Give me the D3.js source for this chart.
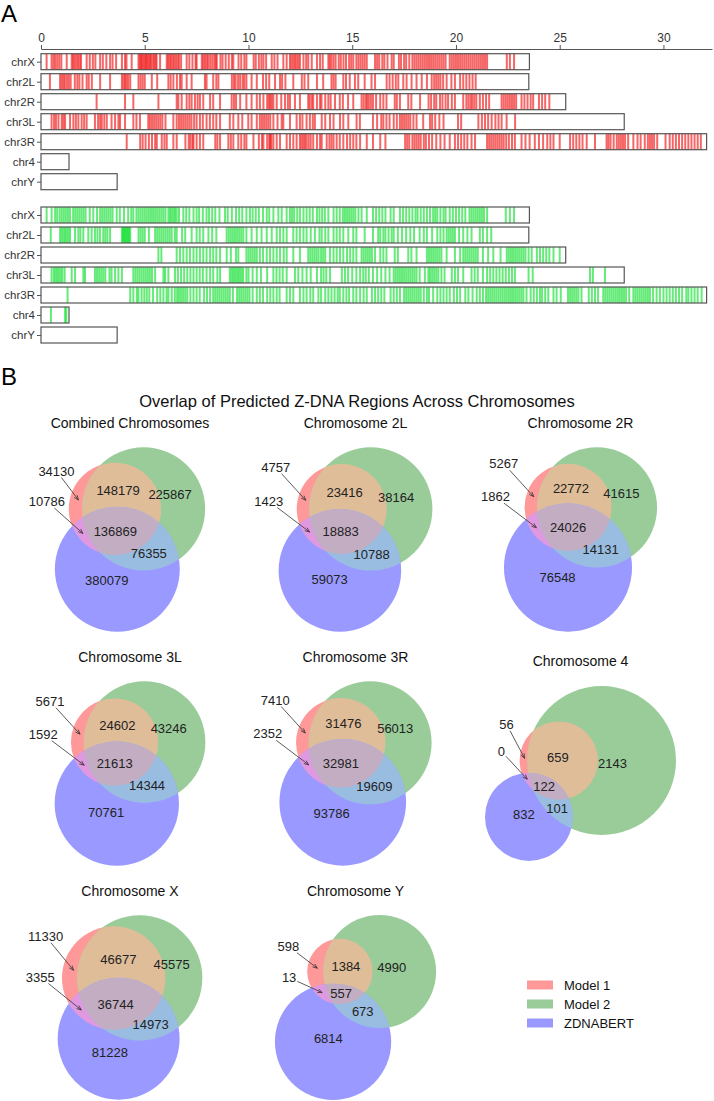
<!DOCTYPE html>
<html>
<head>
<meta charset="utf-8">
<script src="https://cdnjs.cloudflare.com/ajax/libs/d3/7.8.5/d3.min.js"></script>
<style>
  body { margin: 0; background: #fff; }
  svg { display: block; font-family: "Liberation Sans", Arial, sans-serif; }
</style>
</head>
<body>
<svg id="fig" width="714" height="1101"></svg>
<script>
// ---------------- Data: panel A ----------------
const chroms = ["chrX", "chr2L", "chr2R", "chr3L", "chr3R", "chr4", "chrY"];
const chromLengths = [23.54, 23.51, 25.29, 28.11, 32.08, 1.35, 3.67]; // Mb
const axisTicks = [0, 5, 10, 15, 20, 25, 30];

// predicted Z-DNA sites (Mb), model 1 (red)
const m1_chrX = [0.27,0.51,0.6,0.68,0.78,0.88,0.98,1.24,1.48,1.55,1.62,1.7,1.78,1.86,1.93,2.2,2.35,2.5,2.62,2.85,2.98,3.15,3.33,3.45,3.62,3.9,4.05,4.12,4.37,4.7,4.76,4.82,4.88,4.94,5.0,5.06,5.12,5.18,5.24,5.3,5.38,5.45,5.52,5.57,5.74,6.06,6.13,6.2,6.27,6.35,6.42,6.5,6.58,6.65,6.75,7.02,7.15,7.3,7.45,7.5,7.75,7.82,7.9,7.98,8.05,8.15,8.25,8.35,8.42,8.47,8.65,8.75,8.9,9.05,9.2,9.27,9.52,9.65,9.8,9.9,10.25,10.35,10.5,10.62,10.72,10.85,11.12,11.25,11.4,11.68,11.84,12.0,12.08,12.16,12.24,12.32,12.4,12.48,12.65,12.78,12.88,13.05,13.3,13.45,13.58,13.85,13.92,14.0,14.1,14.2,14.35,14.45,14.58,14.7,14.85,14.95,15.05,15.2,15.3,15.4,15.5,15.6,15.7,16.1,16.2,16.3,16.45,16.55,16.7,16.9,17.0,17.25,17.35,17.5,17.6,17.75,17.9,18.0,18.1,18.2,18.3,18.4,18.5,18.6,18.7,18.8,18.9,19.0,19.1,19.2,19.3,19.4,19.5,19.7,19.8,19.9,20.0,20.1,20.2,20.3,20.4,20.5,20.6,20.7,20.8,20.9,21.0,21.1,21.2,21.3,21.4,21.5,22.45,22.6,22.8];
const m1_chr2L = [0.43,0.92,1.0,1.08,1.15,1.25,1.34,1.43,1.63,1.75,1.85,2.0,2.2,2.3,2.45,2.85,3.33,3.9,3.98,4.05,4.12,4.2,4.3,4.7,4.8,4.9,5.0,5.34,5.6,6.14,6.25,6.38,6.55,6.7,6.78,7.02,7.26,7.9,7.98,8.3,8.45,8.55,9.2,9.3,9.38,9.5,9.6,9.72,9.8,9.9,10.15,10.4,10.7,10.85,11.0,11.28,11.52,11.62,11.78,12.16,12.57,12.7,12.88,13.3,13.6,14.0,14.1,14.2,14.57,14.7,14.88,15.13,15.29,15.6,15.93,16.1,16.66,16.8,16.95,17.1,17.22,17.46,17.62,17.86,18.1,18.35,18.6,18.83,18.95,19.05,19.15,19.25,19.38,19.55,19.78,19.95,20.2,20.35,20.5,20.65,20.8,20.95];
const m1_chr2R = [2.68,4.05,4.45,5.66,6.54,6.62,6.78,7.02,7.15,7.26,7.42,7.55,7.66,7.82,8.15,8.3,8.63,9.19,9.3,9.4,9.6,9.9,10.15,10.4,10.55,10.72,10.9,10.98,11.05,11.12,11.2,11.36,11.58,11.76,11.9,12.0,12.24,12.48,12.88,12.95,13.05,13.12,13.3,13.45,13.52,13.7,13.85,13.96,14.17,14.4,14.55,14.8,15.05,15.45,15.55,15.65,15.72,15.8,15.9,16.0,16.15,16.35,16.5,16.65,17.05,17.15,17.3,17.7,17.85,18.27,18.68,18.8,18.95,19.05,19.23,19.35,19.5,19.62,19.8,19.95,20.35,20.5,20.6,20.7,20.78,20.88,20.98,21.15,21.3,21.45,21.6,22.2,22.3,22.4,22.5,22.6,22.7,22.8,22.9,23.16,23.3,23.45,23.6,23.72,24.0,24.15,24.3,24.5];
const m1_chr3L = [0.51,0.63,0.72,0.84,1.0,1.08,1.16,1.4,1.56,1.68,1.8,1.96,2.08,2.2,2.6,2.75,2.85,2.93,3.05,3.17,3.4,3.57,3.73,3.81,4.05,4.45,4.6,4.77,5.17,5.25,5.35,5.45,5.55,5.65,5.75,5.85,6.0,6.38,6.54,6.65,6.75,6.85,6.95,7.05,7.15,7.25,7.38,7.5,7.66,7.8,7.98,8.14,8.3,8.45,8.63,9.1,9.27,9.51,9.7,9.99,10.15,10.4,10.55,10.65,10.75,10.85,10.95,11.05,11.2,11.4,11.6,11.68,12.0,12.32,12.48,12.6,12.8,12.96,13.1,13.2,13.53,13.7,13.93,14.1,14.41,14.57,14.81,15.21,15.37,16.0,16.2,16.4,16.5,16.65,16.8,17.0,17.15,17.3,17.4,17.5,17.6,17.7,17.8,17.95,18.1,18.42,18.75,18.85,19.0,19.2,19.4,20.1,20.25,21.08,21.25,21.4,21.55,21.72,21.9,22.05,22.2,22.44,22.85];
const m1_chr3R = [4.13,4.78,4.9,5.04,5.2,5.35,5.5,5.58,5.82,5.95,6.06,6.38,6.54,6.96,7.12,7.2,7.3,7.35,7.5,7.66,7.82,8.4,8.5,8.63,9.03,9.15,9.27,9.51,9.65,9.8,9.9,10.24,10.5,10.65,10.72,10.9,11.0,11.05,11.1,11.2,11.36,11.52,11.84,12.0,12.16,12.32,12.48,12.56,12.64,12.72,12.8,12.9,13.0,13.12,13.3,13.45,13.53,13.77,13.9,14.0,14.1,14.25,14.4,14.57,14.75,14.9,15.05,15.2,15.38,15.7,16.0,16.35,16.6,17.55,17.65,17.75,17.9,18.0,18.1,18.2,18.3,18.45,18.55,18.7,18.85,19.05,19.25,19.45,19.7,19.95,20.1,20.25,20.4,20.55,20.75,20.92,21.5,21.6,21.7,21.8,21.9,22.0,22.1,22.2,22.3,22.42,22.55,22.7,22.84,23.16,23.35,23.55,23.8,24.0,24.2,24.4,24.55,24.7,25.0,25.5,25.65,25.8,25.95,26.1,26.3,26.7,27.26,27.35,27.45,27.6,27.75,27.85,27.95,28.05,28.15,28.3,28.55,28.75,28.9,29.1,29.25,29.35,29.45,29.55,29.7,30.1,30.3,30.45,30.6,30.75,30.9,31.05,31.2,31.35,31.5,31.65,31.8];
const m1_chr4 = [];
const m1_chrY = [];

// predicted Z-DNA sites (Mb), model 2 (green)
const m2_chrX = [0.27,0.51,0.68,0.78,0.9,1.0,1.1,1.2,1.3,1.4,1.55,1.65,1.75,1.85,1.95,2.05,2.15,2.35,2.52,2.7,2.85,2.95,3.05,3.15,3.25,3.35,3.45,3.65,3.8,4.0,4.2,4.35,4.45,4.6,4.7,4.8,4.9,5.0,5.1,5.2,5.3,5.4,5.5,5.6,5.7,5.8,5.9,6.0,6.14,6.22,6.3,6.38,6.46,6.54,6.65,6.86,7.0,7.15,7.35,7.5,7.62,7.8,7.98,8.1,8.25,8.4,8.6,8.87,9.0,9.2,9.4,9.55,9.7,9.9,10.07,10.2,10.35,10.5,10.7,10.88,11.0,11.2,11.44,11.6,11.84,12.0,12.1,12.2,12.35,12.48,12.65,12.8,12.95,13.1,13.3,13.42,13.55,13.68,13.85,14.1,14.25,14.4,14.55,14.65,14.75,14.85,14.95,15.05,15.15,15.3,15.45,15.7,16.0,16.15,16.3,16.45,16.6,16.85,17.0,17.3,17.45,17.6,17.75,17.9,18.05,18.15,18.3,18.45,18.6,18.75,18.9,19.0,19.1,19.25,19.4,19.5,19.7,19.85,20.0,20.15,20.3,20.45,20.65,20.75,20.85,20.95,21.05,21.15,21.25,21.35,21.5,22.4,22.6,22.8];
const m2_chr2L = [0.47,0.92,1.0,1.08,1.16,1.24,1.32,1.4,1.64,1.8,1.9,2.04,2.28,2.44,2.6,2.72,2.84,3.0,3.1,3.2,3.33,3.9,3.95,4.0,4.05,4.1,4.15,4.2,4.25,4.3,4.7,4.8,4.9,5.0,5.2,5.5,5.6,5.7,5.8,5.9,6.0,6.1,6.2,6.3,6.45,6.54,6.8,6.95,7.26,7.5,7.65,7.82,8.07,8.25,8.45,8.95,9.05,9.15,9.25,9.35,9.45,9.55,9.65,9.75,9.9,10.15,10.4,10.63,10.88,11.12,11.36,11.52,11.68,11.84,12.16,12.32,12.48,12.65,12.8,13.0,13.2,13.42,13.53,13.7,13.85,14.1,14.25,14.4,14.57,14.81,15.05,15.2,15.6,16.0,16.25,16.35,16.5,16.6,16.75,16.9,17.0,17.2,17.4,17.6,17.8,17.98,18.25,18.45,18.6,18.85,19.1,19.25,19.4,19.55,19.65,19.75,19.85,19.95,20.15,20.35,20.55,20.75,21.15,21.3,21.5,21.7];
const m2_chr2R = [5.66,5.8,6.54,6.7,6.86,7.02,7.18,7.35,7.5,7.66,7.82,7.98,8.15,8.3,8.45,8.63,8.95,9.15,9.4,9.51,9.9,10.0,10.1,10.2,10.3,10.4,10.55,10.7,10.88,11.04,11.2,11.36,11.52,11.7,11.84,12.16,12.48,12.88,12.98,13.08,13.18,13.28,13.38,13.5,13.6,13.7,13.93,14.1,14.25,14.41,14.57,14.75,14.9,15.05,15.2,15.45,15.55,15.65,15.75,15.85,15.95,16.1,16.35,16.5,16.65,17.05,17.2,17.7,17.85,18.1,18.6,18.7,18.8,18.9,19.0,19.1,19.2,19.3,19.55,19.95,20.2,20.35,20.45,20.55,20.65,20.75,20.85,20.95,21.05,21.3,21.55,21.8,22.15,22.45,22.55,22.65,22.75,22.85,22.95,23.05,23.15,23.25,23.35,23.5,23.65,23.9,24.05,24.2,24.35,24.5,24.7,25.0];
const m2_chr3L = [0.51,0.62,0.7,0.78,0.86,0.95,1.03,1.14,1.48,1.64,2.04,2.12,2.6,2.7,2.8,2.9,3.0,3.1,3.3,3.4,3.57,3.73,3.9,4.45,4.55,4.65,4.75,4.85,4.95,5.05,5.15,5.25,5.35,5.5,5.9,5.98,6.14,6.46,6.6,6.75,6.9,7.05,7.2,7.35,7.5,7.65,7.8,7.98,8.15,8.3,8.5,8.63,9.1,9.18,9.26,9.34,9.42,9.5,9.58,9.66,9.74,9.9,10.0,10.2,10.4,10.6,10.9,11.2,11.35,11.5,11.65,11.84,12.24,12.4,12.6,12.8,13.0,13.3,13.5,13.62,13.75,13.93,14.5,14.65,14.8,15.0,15.2,15.38,15.53,15.65,15.8,16.0,16.2,16.4,16.6,16.8,17.0,17.1,17.2,17.3,17.4,17.5,17.6,17.7,17.8,17.9,18.0,18.1,18.25,18.5,18.67,18.75,18.85,18.95,19.05,19.15,19.3,19.45,19.8,19.95,20.1,20.35,20.75,20.9,21.05,21.3,21.5,21.65,21.8,21.95,22.1,22.25,22.4,22.55,22.7,22.84,23.5,23.7,26.46,26.6,27.18];
const m2_chr3R = [1.28,4.3,4.45,4.62,4.7,4.85,4.98,5.1,5.22,5.4,5.6,5.75,5.9,6.05,6.14,6.3,6.45,6.56,6.65,6.75,6.85,6.95,7.05,7.2,7.35,7.5,7.65,7.86,8.0,8.15,8.3,8.4,8.5,8.6,8.7,8.8,8.9,9.0,9.1,9.25,9.45,9.55,9.65,9.75,9.85,9.95,10.05,10.2,10.4,10.55,10.7,10.9,11.05,11.2,11.36,11.5,11.84,12.0,12.16,12.48,12.65,12.8,12.98,13.12,13.37,13.5,13.7,13.85,14.0,14.15,14.3,14.4,14.57,14.72,14.85,15.05,15.2,15.38,15.55,15.7,15.95,16.1,16.25,16.4,16.55,16.85,17.0,17.15,17.3,17.5,17.6,17.7,17.8,17.9,18.0,18.1,18.2,18.3,18.45,18.6,18.7,18.9,19.1,19.25,19.4,19.55,19.7,19.9,20.05,20.2,20.45,20.6,20.8,21.0,21.15,21.3,21.45,21.55,21.65,21.75,21.85,21.95,22.05,22.15,22.25,22.35,22.45,22.55,22.65,22.75,22.85,22.95,23.05,23.15,23.25,23.4,23.6,23.75,23.9,24.05,24.15,24.3,24.45,24.7,24.85,25.05,25.4,25.5,25.6,25.7,25.8,25.9,26.05,26.4,26.55,26.7,26.85,27.1,27.2,27.3,27.4,27.5,27.6,27.7,27.8,27.9,28.0,28.1,28.2,28.35,28.55,28.65,28.75,28.85,28.95,29.05,29.15,29.25,29.35,29.5,29.67,29.83,30.0,30.15,30.3,30.45,30.6,30.75,30.9,31.1,31.2,31.35,31.5,31.65,31.84];
const m2_chr4 = [0.48, 1.16, 1.22];
const m2_chrY = [];

// ---------------- Data: panel B ----------------
const vennTitles = ["Combined Chromosomes", "Chromosome 2L", "Chromosome 2R",
  "Chromosome 3L", "Chromosome 3R", "Chromosome 4", "Chromosome X", "Chromosome Y"];
// subset order as in matplotlib_venn: Abc, aBc, ABc, abC, AbC, aBC, ABC
const vennCombined = [34130, 225867, 148179, 380079, 10786, 76355, 136869];
const venn2L = [4757, 38164, 23416, 59073, 1423, 10788, 18883];
const venn2R = [5267, 41615, 22772, 76548, 1862, 14131, 24026];
const venn3L = [5671, 43246, 24602, 70761, 1592, 14344, 21613];
const venn3R = [7410, 56013, 31476, 93786, 2352, 19609, 32981];
const venn4 = [56, 2143, 659, 832, 0, 101, 122];
const vennX = [11330, 45575, 46677, 81228, 3355, 14973, 36744];
const vennY = [598, 4990, 1384, 6814, 13, 673, 557];
const setNames = ["Model 1", "Model 2", "ZDNABERT"];

// ---------------- Layout ----------------
const svg = d3.select("#fig");
const BOX_H = 16;
const setColors = ["#ff0000", "#008000", "#0000ff"];
const model1Tracks = [m1_chrX, m1_chr2L, m1_chr2R, m1_chr3L, m1_chr3R, m1_chr4, m1_chrY];
const model2Tracks = [m2_chrX, m2_chr2L, m2_chr2R, m2_chr3L, m2_chr3R, m2_chr4, m2_chrY];
const vennSubsets = [vennCombined, venn2L, venn2R, venn3L, venn3R, venn4, vennX, vennY];

// text offsets (px) of the two arrow-annotated labels, relative to the region point
const annotOffsets = [
  [[-22, -29], [-36, -32]],
  [[-30, -33], [-41, -31]],
  [[-30, -33], [-41, -31]],
  [[-30, -33], [-41, -31]],
  [[-30, -33], [-41, -31]],
  [[-18, -34], [-26, -28]],
  [[-28, -34], [-41, -33]],
  [[-29, -22], [-33, -15]]
];

// --------------- Panel A: chromosome tracks ---------------
svg.append("text").attr("x", 1).attr("y", 22).attr("font-size", 24).text("A");

const x = d3.scaleLinear().domain([0, 32.34]).range([41, 712]);

svg.append("g")
  .attr("transform", "translate(0,49)")
  .call(d3.axisTop(x).tickValues(axisTicks).tickSize(4).tickSizeOuter(0))
  .call(g => g.select(".domain").attr("stroke", "#555"))
  .call(g => g.selectAll(".tick line").attr("stroke", "#555"))
  .call(g => g.selectAll(".tick text").attr("font-size", 12).attr("fill", "#333")
    .attr("font-family", "Liberation Sans, Arial, sans-serif"));

function drawTracks(yScale, tracks, color) {
  const g = svg.append("g");
  g.append("g")
    .attr("transform", `translate(${x(0)},0)`)
    .call(d3.axisLeft(yScale).tickSize(4).tickPadding(2))
    .call(a => a.select(".domain").remove())
    .call(a => a.selectAll(".tick line").attr("stroke", "#555"))
    .call(a => a.selectAll(".tick text").attr("font-size", 11.5).attr("fill", "#333")
      .attr("font-family", "Liberation Sans, Arial, sans-serif"));

  chroms.forEach((c, i) => {
    const yc = yScale(c);
    const row = g.append("g");
    row.selectAll("rect.site")
      .data(tracks[i])
      .join("rect")
      .attr("class", "site")
      .attr("x", d => x(d) - 1)
      .attr("width", 2)
      .attr("y", yc - BOX_H / 2)
      .attr("height", BOX_H)
      .attr("fill", color)
      .attr("fill-opacity", 0.6);
    row.append("rect")
      .attr("x", x(0))
      .attr("y", yc - BOX_H / 2)
      .attr("width", x(chromLengths[i]) - x(0))
      .attr("height", BOX_H)
      .attr("fill", "none")
      .attr("stroke", "#555")
      .attr("stroke-width", 1.2);
  });
}

drawTracks(d3.scalePoint().domain(chroms).range([61.7, 181.7]), model1Tracks, "#ee0000");
drawTracks(d3.scalePoint().domain(chroms).range([215, 335]), model2Tracks, "#00dd22");

// --------------- Panel B: Venn diagrams ---------------
svg.append("text").attr("x", 1).attr("y", 385).attr("font-size", 24).text("B");
svg.append("text")
  .attr("x", 357).attr("y", 407)
  .attr("text-anchor", "middle")
  .attr("font-size", 16.5)
  .attr("fill", "#111")
  .text("Overlap of Predicted Z-DNA Regions Across Chromosomes");

// area of the lens between two circles
function lensArea(r1, r2, d) {
  if (d >= r1 + r2) return 0;
  if (d <= Math.abs(r1 - r2)) return Math.PI * Math.min(r1, r2) ** 2;
  const a = r1 * r1 * Math.acos((d * d + r1 * r1 - r2 * r2) / (2 * d * r1));
  const b = r2 * r2 * Math.acos((d * d + r2 * r2 - r1 * r1) / (2 * d * r2));
  const c = 0.5 * Math.sqrt((-d + r1 + r2) * (d + r1 - r2) * (d - r1 + r2) * (d + r1 + r2));
  return a + b - c;
}

function distForArea(r1, r2, area) {
  let lo = Math.abs(r1 - r2), hi = r1 + r2;
  for (let i = 0; i < 80; i++) {
    const mid = (lo + hi) / 2;
    if (lensArea(r1, r2, mid) > area) lo = mid; else hi = mid;
  }
  return (lo + hi) / 2;
}

// same construction as matplotlib_venn: area-proportional circles on a triangle
function venn3Layout(s) {
  const [Abc, aBc, ABc, abC, AbC, aBC, ABC] = s;
  const tot = d3.sum(s);
  const areas = [(Abc + ABc + AbC + ABC) / tot, (aBc + ABc + aBC + ABC) / tot, (abC + AbC + aBC + ABC) / tot];
  const r = areas.map(a => Math.sqrt(a / Math.PI));
  const dab = distForArea(r[0], r[1], (ABc + ABC) / tot);
  const dbc = distForArea(r[1], r[2], (aBC + ABC) / tot);
  const dac = distForArea(r[0], r[2], (AbC + ABC) / tot);
  const cx = (dac * dac - dbc * dbc + dab * dab) / (2 * dab);
  const cy = Math.sqrt(Math.max(0, dac * dac - cx * cx));
  let c = [[0, 0], [dab, 0], [cx, cy]];
  const w = r.map(v => v * v), sw = d3.sum(w);
  const mx = d3.sum(c, (p, i) => p[0] * w[i]) / sw;
  const my = d3.sum(c, (p, i) => p[1] * w[i]) / sw;
  c = c.map(p => [p[0] - mx, p[1] - my]);
  return { c, r };
}

// label point of each region: mean of the midpoints of its bounding arcs
function regionPoints(c, r) {
  const N = 2880;
  const inside = (p, j) => Math.hypot(p[0] - c[j][0], p[1] - c[j][1]) < r[j];
  const keyOf = p => [0, 1, 2].reduce((k, j) => k | (inside(p, j) ? 1 << j : 0), 0);
  const depthOf = p => d3.min([0, 1, 2], j => Math.abs(Math.hypot(p[0] - c[j][0], p[1] - c[j][1]) - r[j]));
  const out = [];
  for (let k = 1; k < 8; k++) {
    const mids = [];
    for (let i = 0; i < 3; i++) {
      const pt = t => {
        const a = 2 * Math.PI * t / N;
        return [c[i][0] + r[i] * Math.cos(a), c[i][1] + r[i] * Math.sin(a)];
      };
      const flags = d3.range(N).map(t => {
        const p = pt(t);
        for (let j = 0; j < 3; j++) {
          if (j !== i && inside(p, j) !== Boolean(k & (1 << j))) return false;
        }
        return true;
      });
      if (!flags.some(f => f) || flags.every(f => f)) continue;
      for (let t = 0; t < N; t++) {
        if (flags[t] && !flags[(t - 1 + N) % N]) {
          let len = 0;
          while (flags[(t + len) % N]) len++;
          mids.push(pt(t + len / 2));
        }
      }
    }
    if (!mids.length) { out[k] = null; continue; }
    out[k] = [d3.mean(mids, m => m[0]), d3.mean(mids, m => m[1])];
    if (keyOf(out[k]) !== k) {
      // fall back to the deepest sampled point of the region
      let best = null, bestD = -1;
      const step = 0.004;
      const x0 = d3.min(c, (p, j) => p[0] - r[j]), x1 = d3.max(c, (p, j) => p[0] + r[j]);
      const y0 = d3.min(c, (p, j) => p[1] - r[j]), y1 = d3.max(c, (p, j) => p[1] + r[j]);
      for (let px = x0; px <= x1; px += step) {
        for (let py = y0; py <= y1; py += step) {
          const p = [px, py];
          if (keyOf(p) !== k) continue;
          const d = depthOf(p);
          if (d > bestD) { bestD = d; best = p; }
        }
      }
      if (best) out[k] = best;
    }
  }
  return out;
}

function mixColors(cols, f) {
  const rgb = cols.map(c => d3.rgb(c));
  const m = ch => Math.min(1, f * d3.sum(rgb, v => v[ch] / 255));
  // alpha 0.4 over white
  return d3.rgb(255 * (0.6 + 0.4 * m("r")), 255 * (0.6 + 0.4 * m("g")), 255 * (0.6 + 0.4 * m("b")));
}
const [cA, cB, cC] = setColors;
const regionColor = {
  1: mixColors([cA], 1), 2: mixColors([cB], 1), 4: mixColors([cC], 1),
  3: mixColors([cA, cB], 0.7), 5: mixColors([cA, cC], 0.7), 6: mixColors([cB, cC], 0.7),
  7: mixColors([cA, cB, cC], 0.4)
};

const COL_X = [130, 355.5, 580.5];
const ROW_TITLE_Y = [423, 657, 891];
const SLOT_W = 221, SLOT_H = 213;
const defs = svg.append("defs");

vennSubsets.forEach((subsets, vi) => {
  const col = vi % 3, rowI = Math.floor(vi / 3);
  const { c, r } = venn3Layout(subsets);
  const bx0 = d3.min(c, (p, i) => p[0] - r[i]) - 0.1, bx1 = d3.max(c, (p, i) => p[0] + r[i]) + 0.1;
  const by0 = d3.min(c, (p, i) => p[1] - r[i]) - 0.1, by1 = d3.max(c, (p, i) => p[1] + r[i]) + 0.1;
  const s = Math.min(SLOT_W / (bx1 - bx0), SLOT_H / (by1 - by0));
  const axW = s * (bx1 - bx0), axH = s * (by1 - by0);
  const slotTop = ROW_TITLE_Y[rowI] + 10;
  const axLeft = COL_X[col] - axW / 2, axTop = slotTop + (SLOT_H - axH) / 2;
  const sx = d3.scaleLinear().domain([bx0, bx1]).range([axLeft, axLeft + axW]);
  const sy = d3.scaleLinear().domain([by0, by1]).range([axTop, axTop + axH]);

  const g = svg.append("g");
  g.append("text")
    .attr("x", COL_X[col]).attr("y", axTop - 5)
    .attr("text-anchor", "middle").attr("font-size", 14).attr("fill", "#111")
    .text(vennTitles[vi]);

  const circ = i => ({ cx: sx(c[i][0]), cy: sy(c[i][1]), r: r[i] * s });
  const clipIds = [0, 1].map(i => {
    const id = `clip${vi}_${i}`;
    const cc = circ(i);
    defs.append("clipPath").attr("id", id)
      .append("circle").attr("cx", cc.cx).attr("cy", cc.cy).attr("r", cc.r);
    return id;
  });
  const addCircle = (parent, i, fill) => {
    const cc = circ(i);
    parent.append("circle").attr("cx", cc.cx).attr("cy", cc.cy).attr("r", cc.r).attr("fill", fill);
  };
  addCircle(g, 0, regionColor[1]);
  addCircle(g, 1, regionColor[2]);
  addCircle(g, 2, regionColor[4]);
  addCircle(g.append("g").attr("clip-path", `url(#${clipIds[0]})`), 1, regionColor[3]);
  addCircle(g.append("g").attr("clip-path", `url(#${clipIds[0]})`), 2, regionColor[5]);
  addCircle(g.append("g").attr("clip-path", `url(#${clipIds[1]})`), 2, regionColor[6]);
  addCircle(g.append("g").attr("clip-path", `url(#${clipIds[0]})`)
    .append("g").attr("clip-path", `url(#${clipIds[1]})`), 2, regionColor[7]);

  // labels
  const pts = regionPoints(c, r);
  if (!pts[5]) pts[5] = pts[7];
  subsets.forEach((v, si) => {
    const k = si + 1;
    const p = pts[k];
    if (!p) return;
    const px = sx(p[0]), py = sy(p[1]);
    const annotated = (k === 1 || k === 5);
    if (!annotated) {
      g.append("text").attr("x", px).attr("y", py).attr("dy", "0.35em")
        .attr("text-anchor", "middle").attr("font-size", 13).attr("fill", "#222").text(v);
      return;
    }
    const off = annotOffsets[vi][k === 1 ? 0 : 1];
    const tx = px + off[0], ty = py + off[1];
    const t = g.append("text").attr("x", tx).attr("y", ty).attr("dy", "0.35em")
      .attr("text-anchor", "middle").attr("font-size", 13).attr("fill", "#222").text(v);
    const bb = t.node().getBBox();
    const hw = bb.width / 2 + 1, hh = bb.height / 2 - 1;
    const dx = px - tx, dy = py - ty;
    const tEdge = Math.min(hw / Math.abs(dx || 1e-6), hh / Math.abs(dy || 1e-6));
    const x1 = tx + dx * tEdge, y1 = ty + dy * tEdge;
    const ang = Math.atan2(py - y1, px - x1);
    g.append("line").attr("x1", x1).attr("y1", y1).attr("x2", px).attr("y2", py)
      .attr("stroke", "#333").attr("stroke-width", 0.8);
    [-1, 1].forEach(sg => {
      const a = ang + Math.PI + sg * 0.38;
      g.append("line").attr("x1", px).attr("y1", py)
        .attr("x2", px + 5 * Math.cos(a)).attr("y2", py + 5 * Math.sin(a))
        .attr("stroke", "#333").attr("stroke-width", 0.8);
    });
  });
});

// legend
const legend = svg.append("g").attr("transform", "translate(527,985)");
setNames.forEach((name, i) => {
  const row = legend.append("g").attr("transform", `translate(0,${i * 19})`);
  row.append("rect").attr("x", 0).attr("y", -4.5).attr("width", 26).attr("height", 9)
    .attr("fill", regionColor[[1, 2, 4][i]]);
  row.append("text").attr("x", 37).attr("y", 0).attr("dy", "0.35em")
    .attr("font-size", 13).attr("fill", "#111").text(name);
});
</script>
</body>
</html>
